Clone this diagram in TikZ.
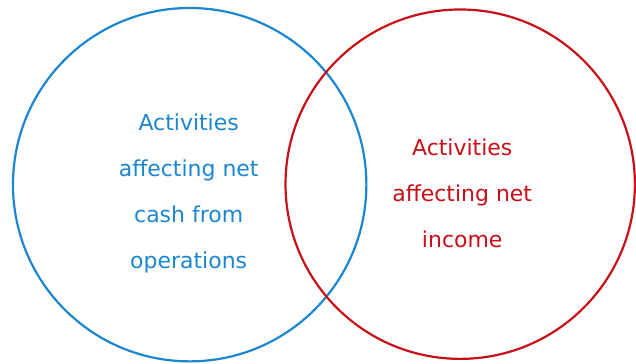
\documentclass[tikz,border=0pt]{standalone}
\usepackage{fontspec}
\setmainfont{DejaVu Sans}
\usepackage{tikz}
\definecolor{cashblue}{RGB}{28,134,208}
\definecolor{incomered}{RGB}{200,16,24}

\begin{document}
\begin{tikzpicture}[scale=1.000000,x=1pt,y=1pt,
  setcircle/.style={draw, line width=2.2pt, circle, minimum size=#1, inner sep=0pt},
  setlabel/.style={align=center, font=\fontsize{22}{46}\selectfont}]
\fill[color=white] (0.000000, 0.000000) rectangle (636.000000, 364.000000);
% Drawing circles
% Set 1: cash from operations
\node[setcircle=354pt, color=cashblue] (cash) at (190.000000, 179.000000) {};
% Set 2: net income
\node[setcircle=350pt, color=incomered] (income) at (461.000000, 179.500000) {};
% Done with circles; drawing labels
\node[setlabel, text=cashblue] (cashlabel) at (189.000000, 170.500000)
  {Activities\\affecting net\\cash from\\operations};
\node[setlabel, text=incomered] (incomelabel) at (463.000000, 170.500000)
  {Activities\\affecting net\\income};
% Done with labels
\end{tikzpicture}
\end{document}
